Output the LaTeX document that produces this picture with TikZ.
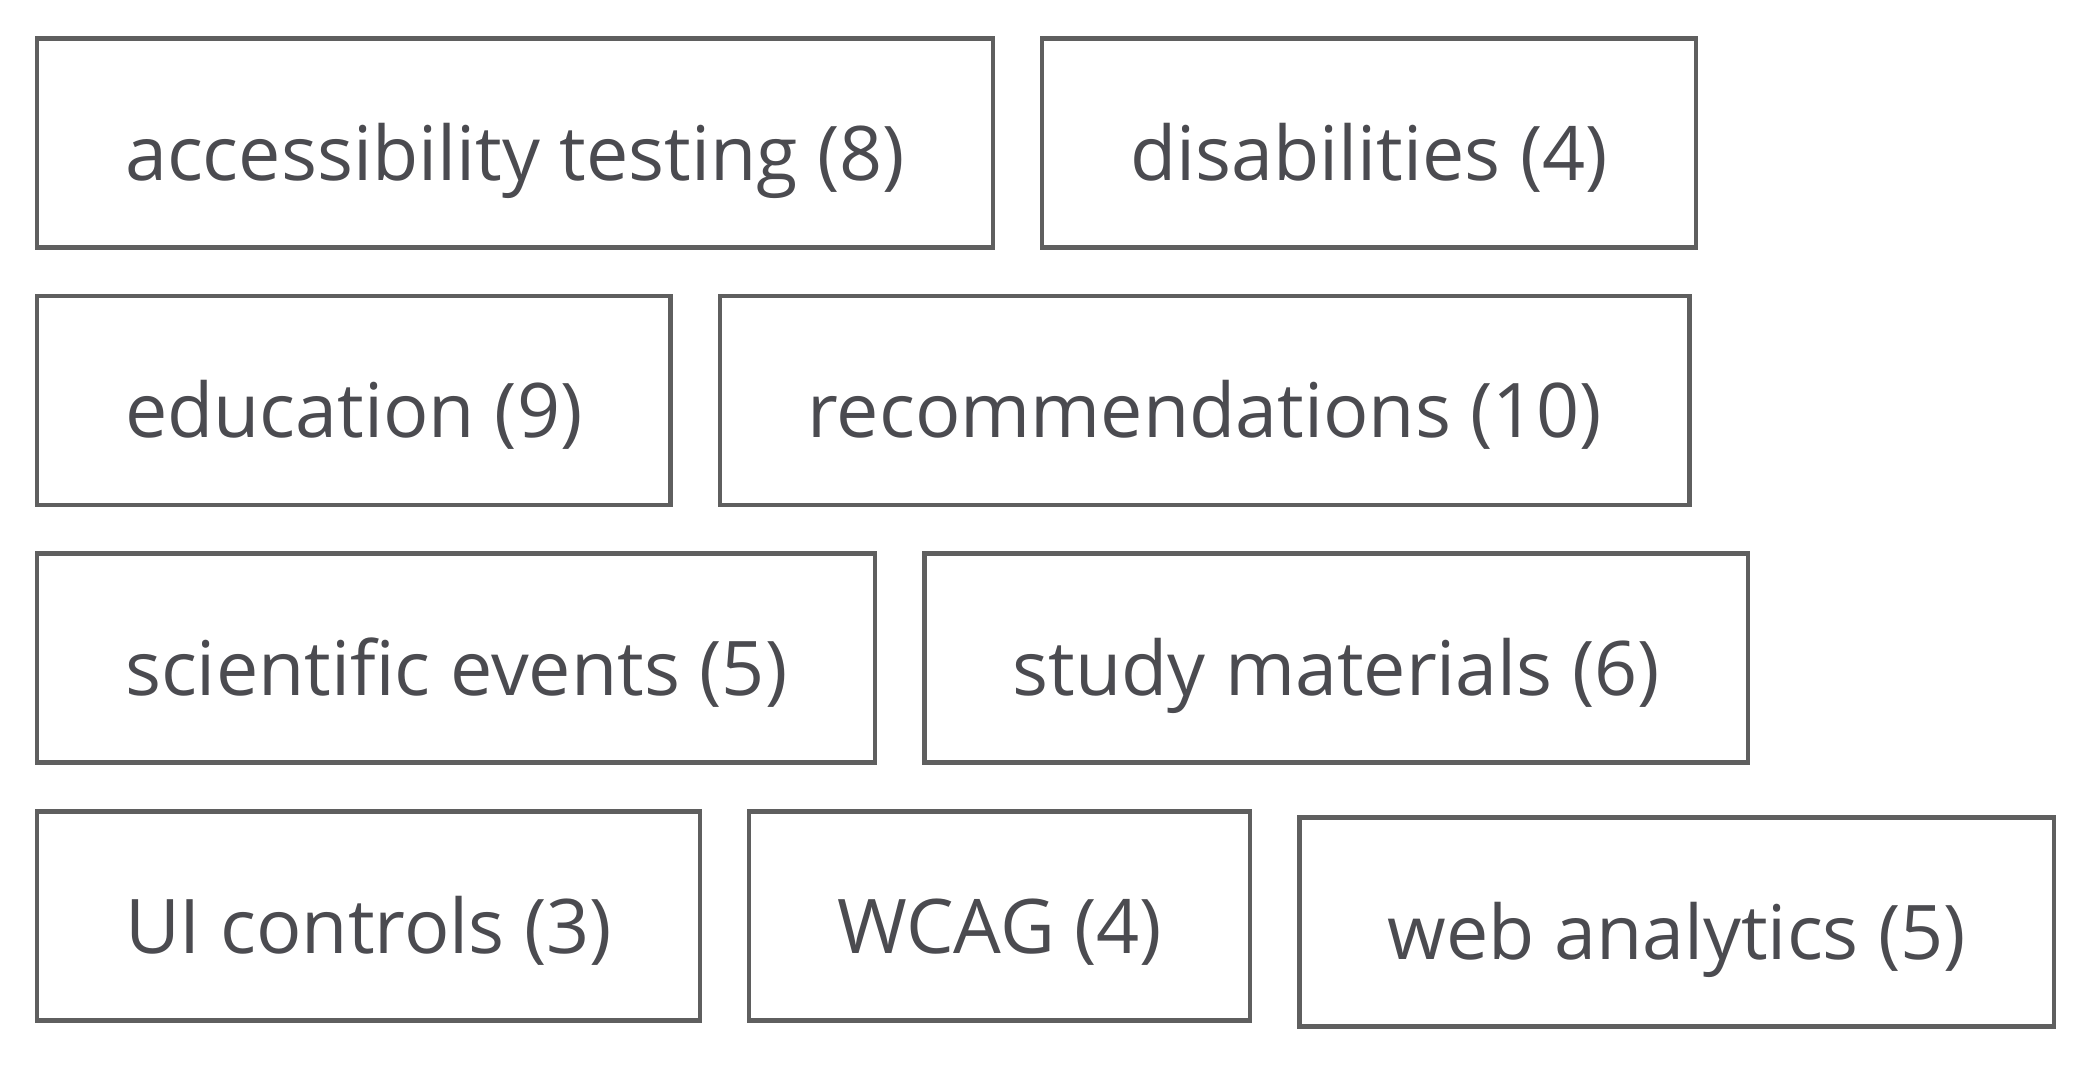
\documentclass[tikz,border=0pt]{standalone}
\usepackage{fontspec}
\setmainfont{Open Sans}
\usepackage{tikz}
\usetikzlibrary{positioning}
\definecolor{tagborder}{RGB}{95,95,95}
\definecolor{tagtext}{RGB}{75,75,80}
\tikzset{tag/.style={rectangle,draw=tagborder,line width=1.2pt,fill=white,text=tagtext,inner xsep=0.88cm,minimum height=2.09cm,text height=0.86cm,text depth=0.12cm,font=\fontsize{21.45}{26}\selectfont}}
\tikzset{rowstart/.style={tag,anchor=west}}

\begin{document}
\begin{tikzpicture}[node distance=0.45cm]
  \useasboundingbox (0,0) rectangle (20.91,-10.70);
  % Row 1
  \node[rowstart] (acctest) at (0.35,-1.43) {accessibility testing (8)};
  \node[tag,right=of acctest] (disab) {disabilities (4)};

  % Row 2
  \node[rowstart] (educ) at (0.35,-4.005) {education (9)};
  \node[tag,right=of educ] (recomm) {recommendations (10)};

  % Row 3
  \node[rowstart] (scievt) at (0.35,-6.58) {scientific events (5)};
  \node[tag,right=of scievt] (studymat) {study materials (6)};

  % Row 4
  \node[rowstart] (uictrl) at (0.35,-9.16) {UI controls (3)};
  \node[tag,right=of uictrl] (wcag) {WCAG (4)};
  \node[tag,right=of wcag,yshift=-0.06cm] (webanal) {web analytics (5)};
\end{tikzpicture}
\end{document}
